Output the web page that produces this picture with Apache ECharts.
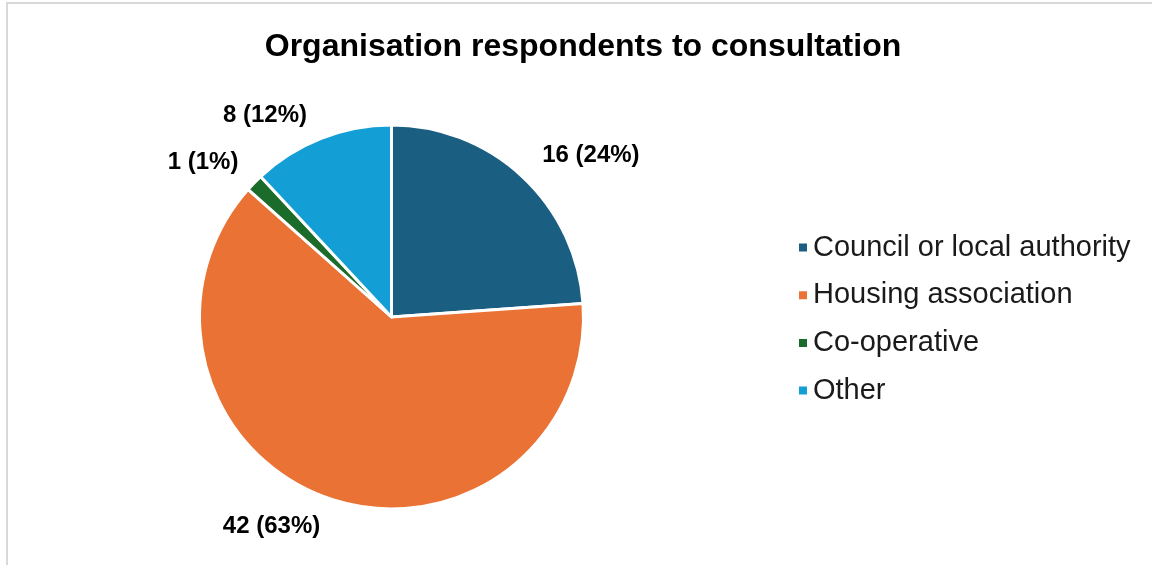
<!DOCTYPE html>
<html>
<head>
<meta charset="utf-8">
<script src="https://cdn.jsdelivr.net/npm/echarts@6/dist/echarts.min.js"></script>
<style>
  html, body { margin: 0; padding: 0; background: #ffffff; }
  #chart { width: 1152px; height: 565px; }
</style>
</head>
<body>
<div id="chart"></div>
<script>
// Respondent organisation types and counts
const categories = ['Council or local authority', 'Housing association', 'Co-operative', 'Other'];
const counts = [16, 42, 1, 8];
const colors = ['#1A5E81', '#EA7234', '#1B6B2A', '#139FD6'];
const titleText = 'Organisation respondents to consultation';

const FONT = '"Liberation Sans", Arial, Helvetica, sans-serif';

// Small per-slice nudges of the outside label anchor (label line is hidden)
const labelLineTweaks = [
  { length: 29, length2: 0 },
  { length: 29, length2: 0 },
  { length: 29, length2: -5 },
  { length: 25, length2: 5 }
];

const chart = echarts.init(document.getElementById('chart'), null, { renderer: 'canvas' });

const pieData = categories.map((name, i) => ({
  name: name,
  value: counts[i],
  itemStyle: { color: colors[i] },
  labelLine: { show: false, length: labelLineTweaks[i].length, length2: labelLineTweaks[i].length2 }
}));

chart.setOption({
  backgroundColor: '#ffffff',
  animation: false,
  graphic: [{
    type: 'rect',
    silent: true,
    shape: { x: 7, y: 3, width: 1300, height: 700 },
    style: { fill: 'none', stroke: '#d9d9d9', lineWidth: 2 }
  }],
  title: {
    text: titleText,
    left: 578,
    top: 23,
    textAlign: 'center',
    textStyle: {
      fontFamily: FONT,
      fontSize: 32,
      fontWeight: 'bold',
      color: '#000000',
      lineHeight: 38
    }
  },
  legend: {
    orient: 'vertical',
    left: 792,
    top: 228,
    icon: 'rect',
    itemWidth: 10,
    itemHeight: 10,
    itemGap: 18.7,
    selectedMode: false,
    data: categories,
    textStyle: {
      fontFamily: FONT,
      fontSize: 29,
      lineHeight: 29,
      color: '#1a1a1a'
    }
  },
  series: [{
    type: 'pie',
    center: [391.5, 317],
    radius: 192,
    startAngle: 90,
    clockwise: true,
    percentPrecision: 0,
    avoidLabelOverlap: false,
    itemStyle: { borderColor: '#ffffff', borderWidth: 3 },
    label: {
      show: true,
      position: 'outside',
      formatter: '{c} ({d}%)',
      fontFamily: FONT,
      fontSize: 24,
      fontWeight: 'bold',
      color: '#000000',
      distanceToLabelLine: 0
    },
    labelLine: { show: false, length: 29, length2: 0 },
    emphasis: { disabled: true },
    data: pieData
  }]
});
</script>
</body>
</html>
